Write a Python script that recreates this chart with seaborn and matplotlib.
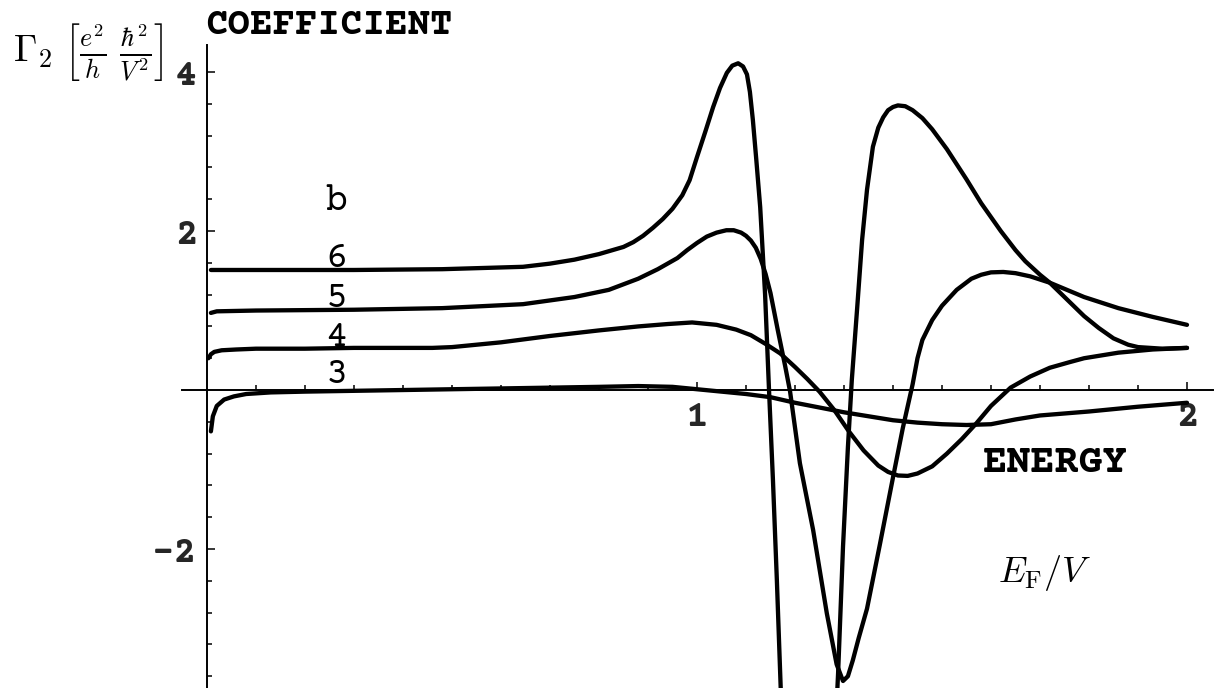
import matplotlib
matplotlib.use("Agg")
import matplotlib.pyplot as plt
import seaborn as sns
from matplotlib.ticker import FixedLocator

# ---- curve data: energy E_F/V and coefficient Gamma_2 ----
curve3_x = [0.008, 0.012, 0.02, 0.035, 0.055, 0.08, 0.13, 0.2, 0.3, 0.4, 0.5, 0.6,
            0.7, 0.8, 0.88, 0.95, 1.0, 1.05, 1.1, 1.15, 1.2, 1.25, 1.3, 1.35, 1.4,
            1.45, 1.5, 1.55, 1.6, 1.65, 1.7, 1.8, 1.9, 2.0]
curve3_y = [-0.52, -0.33, -0.20, -0.12, -0.08, -0.05, -0.03, -0.02, -0.01, 0.0, 0.01,
            0.02, 0.03, 0.04, 0.05, 0.04, 0.01, -0.02, -0.05, -0.09, -0.16, -0.22,
            -0.28, -0.33, -0.38, -0.41, -0.43, -0.44, -0.43, -0.37, -0.32, -0.27,
            -0.21, -0.16]

curve4_x = [0.003, 0.008, 0.015, 0.03, 0.06, 0.1, 0.2, 0.3, 0.4, 0.46, 0.5, 0.6, 0.7,
            0.8, 0.88, 0.94, 0.99, 1.04, 1.08, 1.11, 1.14, 1.17, 1.2, 1.225, 1.25,
            1.28, 1.31, 1.34, 1.37, 1.39, 1.41, 1.43, 1.45, 1.48, 1.51, 1.54, 1.57,
            1.60, 1.64, 1.68, 1.72, 1.76, 1.79, 1.83, 1.86, 1.93, 2.0]
curve4_y = [0.40, 0.45, 0.48, 0.50, 0.51, 0.52, 0.52, 0.53, 0.53, 0.53, 0.54, 0.60,
            0.68, 0.75, 0.80, 0.83, 0.85, 0.82, 0.76, 0.69, 0.58, 0.46, 0.29, 0.14,
            -0.02, -0.25, -0.52, -0.76, -0.95, -1.03, -1.075, -1.08, -1.05, -0.96,
            -0.80, -0.62, -0.42, -0.20, 0.03, 0.17, 0.28, 0.35, 0.40, 0.44, 0.47,
            0.51, 0.53]

curve5_x = [0.008, 0.02, 0.1, 0.3, 0.48, 0.645, 0.75, 0.82, 0.88, 0.92, 0.96, 0.98,
            1.0, 1.02, 1.04, 1.06, 1.075, 1.09, 1.1, 1.11, 1.12, 1.13, 1.14, 1.15,
            1.165, 1.18, 1.19, 1.21, 1.237, 1.265, 1.285, 1.298, 1.308, 1.318, 1.33,
            1.347, 1.373, 1.40, 1.42, 1.44, 1.45, 1.46, 1.48, 1.50, 1.53, 1.56, 1.58,
            1.60, 1.625, 1.65, 1.68, 1.72, 1.79, 1.86, 1.93, 2.0]
curve5_y = [0.97, 0.99, 1.0, 1.01, 1.03, 1.08, 1.17, 1.26, 1.40, 1.52, 1.66, 1.76,
            1.85, 1.93, 1.98, 2.01, 2.01, 1.98, 1.94, 1.88, 1.79, 1.65, 1.46, 1.22,
            0.75, 0.30, -0.02, -0.92, -1.76, -2.81, -3.45, -3.66, -3.60, -3.40,
            -3.12, -2.75, -1.95, -1.10, -0.48, 0.07, 0.40, 0.63, 0.88, 1.06, 1.26,
            1.40, 1.45, 1.48, 1.485, 1.47, 1.43, 1.35, 1.17, 1.03, 0.92, 0.82]

curve6_x = [0.008, 0.1, 0.3, 0.48, 0.645, 0.70, 0.75, 0.80, 0.85, 0.87, 0.89, 0.91,
            0.93, 0.95, 0.97, 0.985, 1.0, 1.017, 1.033, 1.047, 1.061, 1.072, 1.084,
            1.094, 1.102, 1.108, 1.114, 1.121, 1.129, 1.139, 1.147, 1.155, 1.163,
            1.17, 1.178, 1.28, 1.288, 1.298, 1.308, 1.316, 1.327, 1.337, 1.347,
            1.359, 1.37, 1.38, 1.39, 1.40, 1.41, 1.425, 1.44, 1.46, 1.48, 1.51,
            1.55, 1.58, 1.62, 1.65, 1.67, 1.70, 1.72, 1.75, 1.79, 1.82, 1.85, 1.88,
            1.90, 1.95, 2.0]
curve6_y = [1.51, 1.51, 1.51, 1.52, 1.55, 1.59, 1.64, 1.71, 1.80, 1.86, 1.94, 2.04,
            2.15, 2.28, 2.45, 2.64, 2.93, 3.25, 3.56, 3.80, 3.99, 4.08, 4.11, 4.07,
            3.97, 3.75, 3.40, 2.90, 2.30, 1.20, 0.0, -1.13, -2.39, -3.6, -5.0, -4.6,
            -3.56, -1.97, -0.72, 0.13, 1.04, 1.89, 2.52, 3.06, 3.30, 3.43, 3.52,
            3.56, 3.58, 3.57, 3.52, 3.42, 3.28, 3.03, 2.65, 2.35, 2.00, 1.76, 1.62,
            1.45, 1.35, 1.17, 0.93, 0.78, 0.65, 0.57, 0.54, 0.52, 0.53]

curve_labels = ["3", "4", "5", "6"]
curve_label_y = [0.088, 0.55, 1.044, 1.547]
curve_label_x = 0.265

x_major = [1, 2]
x_major_labels = ["1", "2"]
x_minor = [0.1, 0.2, 0.3, 0.4, 0.5, 0.6, 0.7, 0.8, 0.9,
           1.1, 1.2, 1.3, 1.4, 1.5, 1.6, 1.7, 1.8, 1.9]
y_major = [-2, 2, 4]
y_major_labels = ["-2", "2", "4"]
y_minor = [-3.6, -3.2, -2.8, -2.4, -1.6, -1.2, -0.8, -0.4,
           0.4, 0.8, 1.2, 1.6, 2.4, 2.8, 3.2, 3.6]

# ---- style ----
sns.set_theme(style="white")
MONO = ["Courier Prime", "Liberation Mono", "DejaVu Sans Mono"]
plt.rcParams["font.family"] = MONO
plt.rcParams["mathtext.fontset"] = "cm"

W, H = 1221, 688
fig = plt.figure(figsize=(W / 100, H / 100), dpi=100)
ax = fig.add_axes([0, 0, 1, 1])
ax.set_facecolor("white")

for xs, ys in [(curve3_x, curve3_y), (curve4_x, curve4_y),
               (curve5_x, curve5_y), (curve6_x, curve6_y)]:
    sns.lineplot(x=xs, y=ys, ax=ax, color="black", linewidth=3.1,
                 sort=False, estimator=None, legend=False,
                 solid_joinstyle="round", solid_capstyle="round")

ax.set_xlim(-0.4224, 2.0694)
ax.set_ylim(-3.748, 4.906)

# axes crossing at the origin
for s in ["top", "right"]:
    ax.spines[s].set_visible(False)
for s in ["left", "bottom"]:
    ax.spines[s].set_position(("data", 0))
    ax.spines[s].set_color("black")
    ax.spines[s].set_linewidth(1.4)
ax.spines["left"].set_bounds(-3.75, 4.34)
ax.spines["bottom"].set_bounds(-0.051, 2.053)

ax.set_xticks(x_major)
ax.set_xticklabels(x_major_labels, fontweight="bold", fontsize=27)
ax.xaxis.set_minor_locator(FixedLocator(x_minor))
ax.set_yticks(y_major)
ax.set_yticklabels(y_major_labels, fontweight="bold", fontsize=27)
ax.yaxis.set_minor_locator(FixedLocator(y_minor))

ax.tick_params(axis="both", which="both", direction="in", color="black",
               bottom=True, left=True, top=False, right=False, width=1.1)
ax.tick_params(axis="both", which="major", length=6)
ax.tick_params(axis="both", which="minor", length=3.8)
ax.tick_params(axis="x", which="major", pad=8)
ax.tick_params(axis="y", which="major", pad=7)
ax.grid(False)

# curve numbers and panel letter
for lab, ly in zip(curve_labels, curve_label_y):
    ax.text(curve_label_x, ly, lab, ha="center", va="baseline",
            fontsize=27, color="black")
ax.text(curve_label_x, 2.264, "b", ha="center", va="baseline",
        fontsize=27, color="black")

# axis titles
fig.text(205 / W, 1 - 34 / H, "COEFFICIENT", ha="left", va="baseline",
         fontsize=27, fontweight="bold", color="black")
fig.text(983 / W, 1 - 472 / H, "ENERGY", ha="left", va="baseline",
         fontsize=29, fontweight="bold", color="black")
fig.text(13 / W, 1 - 62 / H,
         r"$\Gamma_2\ \left[\frac{e^2}{h}\ \frac{\hbar^2}{V^2}\right]$",
         ha="left", va="baseline", fontsize=27, color="black")
fig.text(998 / W, 1 - 582 / H, r"$E_{\mathrm{F}}/V$", ha="left",
         va="baseline", fontsize=26, color="black")

fig.savefig("out.png", dpi=100, facecolor="white")
